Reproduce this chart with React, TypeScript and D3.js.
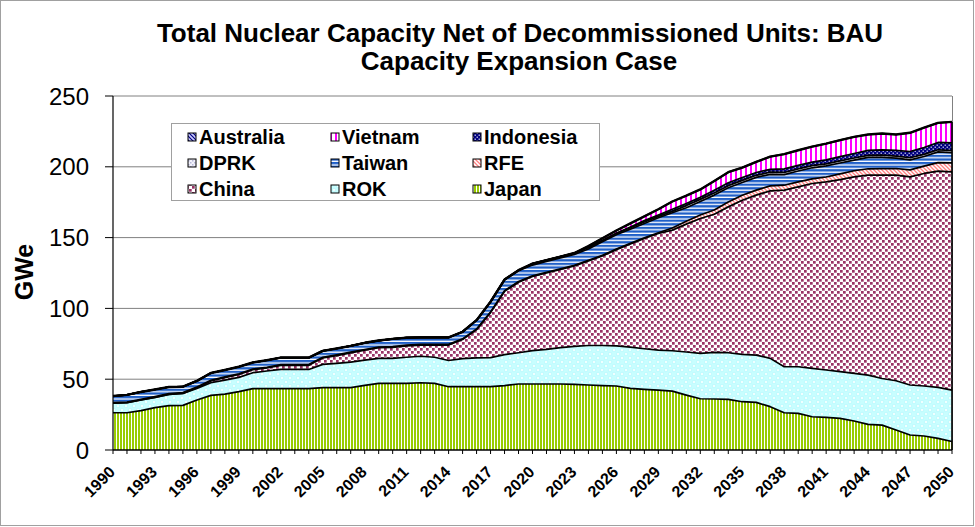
import * as d3 from 'd3';
import React from 'react';

// Values (GWe), 1990..2050
const years = d3.range(1990, 2051);

const japan = [
  26.3, 26.3, 27.8, 29.9, 31.3, 31.5, 35.3, 38.6, 39.5, 41.2,
  43.3, 43.3, 43.3, 43.3, 43.3, 44.0, 44.0, 44.0, 45.6, 47.0,
  47.0, 47.0, 47.5, 47.0, 44.7, 44.7, 44.7, 44.7, 45.5, 46.6,
  46.6, 46.6, 46.6, 46.3, 45.9, 45.5, 45.2, 43.5, 42.8, 42.3,
  41.6, 38.8, 36.2, 36.0, 35.8, 34.1, 33.6, 30.6, 26.3, 25.9,
  23.5, 23.0, 22.3, 20.5, 18.1, 17.6, 14.1, 10.6, 9.9, 8.2, 6.0,
];
const rok = [
  6.7, 7.1, 7.5, 7.3, 8.0, 8.5, 8.2, 8.9, 9.9, 10.1,
  11.3, 12.5, 13.6, 13.6, 13.6, 16.5, 17.2, 18.1, 17.9, 17.7,
  17.7, 18.5, 18.7, 18.5, 18.5, 19.8, 20.3, 20.5, 21.8, 22.1,
  23.6, 24.4, 25.7, 26.9, 27.9, 28.3, 28.3, 29.1, 28.7, 28.3,
  28.5, 30.4, 32.0, 32.9, 32.9, 33.4, 33.4, 34.1, 32.5, 32.9,
  34.1, 33.5, 33.0, 33.6, 34.8, 32.9, 34.8, 35.3, 35.3, 36.0, 36.3,
];
const china = [
  0, 0, 0, 0, 0, 0, 0.5, 1.2, 1.7, 2.0,
  2.1, 2.1, 2.9, 2.9, 2.9, 4.5, 5.5, 6.5, 7.0, 7.5,
  7.8, 8.0, 7.9, 8.6, 10.9, 13.5, 20.0, 31.8, 44.7, 49.8,
  52.3, 54.0, 55.2, 56.8, 59.7, 63.2, 68.0, 72.9, 77.9, 82.3,
  85.2, 90.3, 95.3, 97.6, 103.0, 108.9, 113.0, 118.3, 124.7, 127.0,
  130.6, 132.8, 135.7, 138.8, 141.2, 143.6, 145.2, 147.0, 150.1, 152.7, 154.1,
];
const rfe = [
  0.5, 0.5, 0.5, 0.5, 0.5, 0.5, 0.5, 0.5, 0.5, 0.5,
  0.5, 0.5, 0.5, 0.5, 0.5, 0.5, 0.5, 0.5, 0.5, 0.5,
  0.5, 0.5, 0.5, 0.5, 0.5, 0.5, 0.5, 0.5, 0.5, 0.5,
  0.5, 0.5, 0.5, 0.5, 0.5, 0.5, 0.5, 0.5, 0.5, 0.5,
  1.5, 2.0, 2.5, 3.0, 3.5, 3.5, 3.5, 3.5, 3.5, 3.5,
  3.3, 3.5, 4.0, 4.3, 4.5, 4.6, 4.7, 4.9, 5.2, 6.0, 6.4,
];
const taiwan = [
  4.6, 5.0, 5.2, 5.0, 4.7, 4.2, 4.3, 5.2, 4.9, 5.0,
  4.6, 5.0, 4.9, 4.9, 4.9, 4.5, 4.5, 4.4, 4.7, 4.6,
  5.5, 5.3, 4.9, 4.9, 4.9, 5.0, 6.2, 7.2, 7.6, 7.6,
  7.6, 7.6, 7.6, 7.6, 8.0, 9.5, 10.0, 10.0, 10.1, 10.6,
  10.7, 9.6, 9.5, 10.5, 10.0, 9.0, 9.0, 8.2, 7.5, 7.7,
  7.8, 7.8, 7.7, 7.5, 8.0, 8.0, 7.3, 7.1, 6.8, 7.6, 7.2,
];
const dprk = [
  0, 0, 0, 0, 0, 0, 0, 0, 0, 0,
  0, 0, 0, 0, 0, 0, 0, 0, 0, 0,
  0, 0, 0, 0, 0, 0, 0, 0, 0.3, 0.4,
  1.0, 1.0, 1.0, 1.0, 1.0, 1.0, 1.0, 1.0, 1.0, 1.0,
  1.0, 1.5, 1.5, 1.5, 1.5, 1.5, 1.5, 1.5, 1.5, 1.5,
  1.5, 1.5, 1.5, 1.5, 1.5, 1.5, 1.5, 1.5, 1.5, 1.5, 1.5,
];
const indonesia = [
  0, 0, 0, 0, 0, 0, 0, 0, 0, 0,
  0, 0, 0, 0, 0, 0, 0, 0, 0, 0,
  0, 0, 0, 0, 0, 0, 0, 0, 0, 0,
  0, 0, 0, 0, 0, 0, 0, 0.5, 1.0, 1.0,
  1.5, 1.5, 1.5, 2.0, 2.0, 2.0, 2.0, 2.0, 2.5, 2.5,
  2.5, 2.8, 3.0, 3.2, 3.5, 3.8, 4.0, 4.4, 4.8, 5.2, 5.4,
];
const vietnam = [
  0, 0, 0, 0, 0, 0, 0, 0, 0, 0,
  0, 0, 0, 0, 0, 0, 0, 0, 0, 0,
  0, 0, 0, 0, 0, 0, 0, 0, 0, 0,
  0, 0, 0, 0, 1.0, 1.5, 2.0, 2.5, 3.0, 4.0,
  5.5, 5.5, 5.5, 6.5, 7.5, 7.0, 7.5, 9.0, 10.5, 10.7,
  11.0, 11.5, 11.6, 11.7, 11.2, 11.5, 11.2, 13.2, 14.0, 13.8, 14.8,
];
const australia = years.map(() => 0);

const keys = ['Japan', 'ROK', 'China', 'RFE', 'Taiwan', 'DPRK', 'Indonesia', 'Vietnam', 'Australia'];
const seriesValues: Record<string, number[]> = {
  Japan: japan, ROK: rok, China: china, RFE: rfe, Taiwan: taiwan,
  DPRK: dprk, Indonesia: indonesia, Vietnam: vietnam, Australia: australia,
};
const legendRows = [
  ['Australia', 'Vietnam', 'Indonesia'],
  ['DPRK', 'Taiwan', 'RFE'],
  ['China', 'ROK', 'Japan'],
];
const yTicks = [0, 50, 100, 150, 200, 250];
const xLabels = d3.range(1990, 2051, 3);

const W = 975;
const H = 527;
const font = "'Liberation Sans', Arial, sans-serif";

const Patterns = () => (
  <defs>
    <pattern id="p-Japan" width="3" height="4" patternUnits="userSpaceOnUse">
      <rect width="3" height="4" fill="#fff" />
      <rect width="2" height="4" fill="#99cc00" />
    </pattern>
    <pattern id="p-ROK" width="8" height="8" patternUnits="userSpaceOnUse">
      <rect width="8" height="8" fill="#c8feff" />
      <circle cx="2" cy="2" r="1.8" fill="#f0ffff" stroke="#a8f6fc" strokeWidth="0.6" />
      <circle cx="6" cy="6" r="1.8" fill="#f0ffff" stroke="#a8f6fc" strokeWidth="0.6" />
    </pattern>
    <pattern id="p-China" width="6" height="6" patternUnits="userSpaceOnUse">
      <rect width="6" height="6" fill="#fff" />
      <rect x="0" y="0" width="2.7" height="2.7" fill="#993366" />
      <rect x="3" y="3" width="2.7" height="2.7" fill="#993366" />
    </pattern>
    <pattern id="p-RFE" width="4" height="4" patternUnits="userSpaceOnUse">
      <rect width="4" height="4" fill="#fff" />
      <path d="M0,0L4,4M-1,3L1,5M3,-1L5,1" stroke="#ff8080" strokeWidth="1.3" />
    </pattern>
    <pattern id="p-Taiwan" width="4" height="3.6" patternUnits="userSpaceOnUse">
      <rect width="4" height="3.6" fill="#fff" />
      <rect width="4" height="2.3" fill="#1f5fc8" />
    </pattern>
    <pattern id="p-DPRK" width="4" height="4" patternUnits="userSpaceOnUse">
      <rect width="4" height="4" fill="#f2f2fa" />
      <rect x="0" y="0" width="1.5" height="1.5" fill="#b8b8d8" />
      <rect x="2" y="2" width="1.5" height="1.5" fill="#b8b8d8" />
    </pattern>
    <pattern id="p-Indonesia" width="4" height="4" patternUnits="userSpaceOnUse">
      <rect width="4" height="4" fill="#000080" />
      <rect x="0.6" y="0.6" width="1.2" height="1.2" fill="#fff" />
      <rect x="2.6" y="2.6" width="1.2" height="1.2" fill="#fff" />
    </pattern>
    <pattern id="p-Vietnam" width="5" height="4" patternUnits="userSpaceOnUse">
      <rect width="5" height="4" fill="#fff" />
      <rect width="2" height="4" fill="#ff00ff" />
    </pattern>
    <pattern id="p-Australia" width="4" height="4" patternUnits="userSpaceOnUse">
      <rect width="4" height="4" fill="#ccccff" />
      <path d="M0,0L4,4M-1,3L1,5M3,-1L5,1" stroke="#000080" strokeWidth="1.2" />
    </pattern>
  </defs>
);

const App = () => {
  const table = years.map((year, i) => {
    const row: Record<string, number> = { year };
    keys.forEach((k) => (row[k] = seriesValues[k][i]));
    return row;
  });

  const stacked = d3.stack<Record<string, number>>().keys(keys)(table);

  const x = d3.scaleLinear().domain([1990, 2050]).range([113, 952]);
  const y = d3.scaleLinear().domain([0, 250]).range([450, 96]);

  const area = d3
    .area<d3.SeriesPoint<Record<string, number>>>()
    .x((d) => x(d.data.year))
    .y0((d) => y(d[0]))
    .y1((d) => y(d[1]));

  const topLine = d3
    .line<d3.SeriesPoint<Record<string, number>>>()
    .x((d) => x(d.data.year))
    .y((d) => y(d[1]));

  const last = stacked[stacked.length - 1];
  const total2050 = last[last.length - 1][1];

  return (
    <div style={{ position: 'absolute', left: 0, top: 0 }}>
      <svg width={W} height={H} style={{ display: 'block', fontFamily: font }}>
        <Patterns />
        <rect x={0} y={0} width={W} height={H} fill="#fff" />
        <rect x={0.5} y={0.5} width={973} height={525} fill="none" stroke="#a0a0a0" />

        {/* title */}
        <text x={520} y={42} textAnchor="middle" fontSize={26} fontWeight="bold">
          Total Nuclear Capacity Net of Decommissioned Units: BAU
        </text>
        <text x={519} y={70} textAnchor="middle" fontSize={26} fontWeight="bold">
          Capacity Expansion Case
        </text>

        {/* grid */}
        {yTicks.slice(1).map((t) => (
          <line key={t} x1={113} x2={952} y1={y(t)} y2={y(t)} stroke="#808080" strokeWidth={1} />
        ))}
        <line x1={952.5} x2={952.5} y1={y(250)} y2={y(0)} stroke="#808080" strokeWidth={1} />

        {/* areas */}
        {stacked.map((s) => (
          <path key={s.key} d={area(s) || ''} fill={`url(#p-${s.key})`} />
        ))}
        {stacked.map((s, i) => (
          <path
            key={'l' + s.key}
            d={topLine(s) || ''}
            fill="none"
            stroke="#000"
            strokeWidth={i === stacked.length - 1 ? 2.4 : 1.7}
            strokeLinejoin="round"
          />
        ))}
        <line x1={x(2050)} x2={x(2050)} y1={y(0)} y2={y(total2050)} stroke="#000" strokeWidth={1.6} />

        {/* y axis */}
        <line x1={113} x2={113} y1={y(250)} y2={y(0)} stroke="#000" strokeWidth={1.2} />
        {yTicks.map((t) => (
          <g key={t}>
            <line x1={105} x2={113} y1={y(t)} y2={y(t)} stroke="#000" />
            <text x={89} y={y(t) + 8.5} textAnchor="end" fontSize={24}>
              {t}
            </text>
          </g>
        ))}
        <text
          transform={`translate(33,272) rotate(-90)`}
          textAnchor="middle"
          fontSize={25}
          fontWeight="bold"
        >
          GWe
        </text>

        {/* x axis */}
        <line x1={113} x2={952} y1={450} y2={450} stroke="#000" strokeWidth={1.6} />
        {years.map((yr) => (
          <line key={yr} x1={x(yr)} x2={x(yr)} y1={450} y2={454} stroke="#000" />
        ))}
        {xLabels.map((yr) => (
          <text
            key={yr}
            transform={`translate(${x(yr) + 3},473) rotate(-45)`}
            textAnchor="end"
            fontSize={16}
            fontWeight="bold"
          >
            {yr}
          </text>
        ))}

        {/* legend */}
        <rect x={171.5} y={123.5} width={428} height={77} fill="#fff" stroke="#a0a0a0" />
        {legendRows.map((row, ri) =>
          row.map((name, ci) => {
            const lx = [188, 331, 473][ci];
            const ly = 137 + ri * 26;
            return (
              <g key={name}>
                <rect
                  x={lx}
                  y={ly - 4}
                  width={8}
                  height={8}
                  fill={`url(#p-${name})`}
                  stroke="#000"
                  strokeWidth={1}
                />
                <text x={lx + 11} y={ly + 7} fontSize={20} fontWeight="bold">
                  {name}
                </text>
              </g>
            );
          })
        )}
      </svg>
    </div>
  );
};

export default App;
